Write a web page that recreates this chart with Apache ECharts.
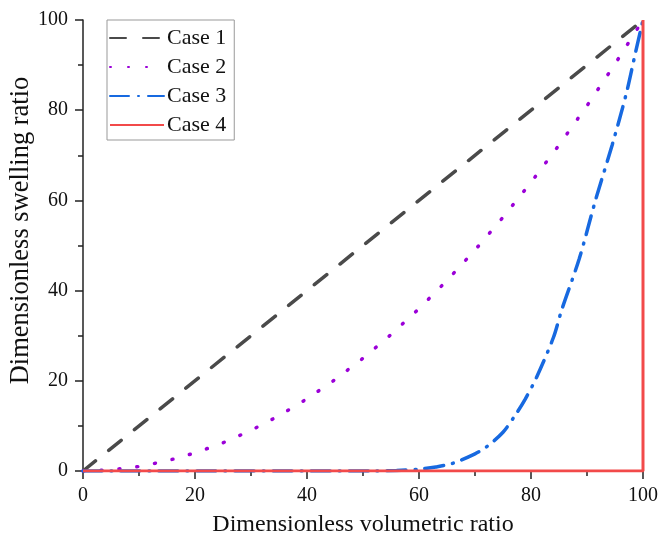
<!DOCTYPE html>
<html>
<head>
<meta charset="utf-8">
<script src="https://cdn.jsdelivr.net/npm/echarts@6/dist/echarts.min.js"></script>
<style>
    html, body { margin: 0; padding: 0; background: #fff; }
    #chart { width: 661px; height: 541px; }
</style>
</head>
<body>
<div id="chart"></div>
<script>
// values, [volumetric ratio, swelling ratio]
var case1Data = [[0, 0], [100, 100]];
var case2Data = [[0, 0], [5, 0.25], [10, 1], [15, 2.25], [20, 4], [25, 6.25], [30, 9], [35, 12.25],
    [40, 16], [45, 20.25], [50, 25], [55, 30.25], [60, 36], [65, 42.25], [70, 49], [75, 56.25],
    [80, 64], [85, 72.25], [90, 81], [95, 90.25], [100, 100]];
var case3Data = [[0, 0], [52, 0], [56, 0.1], [60, 0.4], [63, 0.9], [66, 1.7], [70, 3.8], [72, 5.3],
    [75, 8.6], [77.3, 12.6], [79, 16], [81, 20.8], [84, 29.6], [85.5, 35.8], [88.6, 47],
    [91.6, 60.4], [94.5, 72.3], [97, 83.6], [98.7, 93], [100, 100]];
var case4Data = [[0, 0], [100, 0], [100, 100]];

var xTicks = [0, 20, 40, 60, 80, 100];
var yTicks = [0, 20, 40, 60, 80, 100];

var fontFamily = '"Liberation Serif", "DejaVu Serif", serif';

var chart = echarts.init(document.getElementById('chart'));

var axisCommon = {
    type: 'value',
    min: 0,
    max: 100,
    interval: 20,
    nameLocation: 'middle',
    nameMoveOverlap: false,
    nameTextStyle: { fontFamily: fontFamily, fontSize: 24, color: '#111' },
    axisLine: { show: true, onZero: false, lineStyle: { color: '#222', width: 1.5 } },
    axisTick: { show: true, inside: false, length: 8, lineStyle: { color: '#222', width: 1.5 } },
    minorTick: { show: true, splitNumber: 2, length: 5, lineStyle: { color: '#222', width: 1.5 } },
    axisLabel: { fontFamily: fontFamily, fontSize: 20, color: '#111', margin: 15 },
    splitLine: { show: false }
};

var option = {
    animation: false,
    backgroundColor: '#fff',
    grid: { left: 83, right: 18, top: 20, bottom: 70, containLabel: false, outerBoundsMode: 'none' },
    legend: {
        orient: 'vertical',
        left: 107,
        top: 20,
        padding: [7, 8, 4, 2],
        itemGap: 7,
        itemWidth: 54,
        itemHeight: 18,
        borderColor: '#999',
        borderWidth: 1,
        itemStyle: { opacity: 0 },
        textStyle: { fontFamily: fontFamily, fontSize: 22, color: '#111', padding: [0, 0, 0, -2] },
        data: ['Case 1', 'Case 2', 'Case 3', 'Case 4']
    },
    xAxis: Object.assign({}, axisCommon, {
        name: 'Dimensionless volumetric ratio',
        nameGap: 42,
        axisLabel: Object.assign({}, axisCommon.axisLabel, {
            formatter: function (v) { return xTicks.indexOf(v) >= 0 ? String(v) : ''; }
        })
    }),
    yAxis: Object.assign({}, axisCommon, {
        name: 'Dimensionless swelling ratio',
        nameGap: 48,
        nameTextStyle: { fontFamily: fontFamily, fontSize: 26.5, color: '#111', padding: [0, 0, 0, 30] },
        axisLabel: Object.assign({}, axisCommon.axisLabel, {
            formatter: function (v) { return yTicks.indexOf(v) >= 0 ? String(v) : ''; }
        })
    }),
    series: [
        {
            name: 'Case 1',
            type: 'line',
            data: case1Data,
            showSymbol: false,
            symbol: 'none',
            color: '#4a4a4a',
            lineStyle: { width: 3.5, type: [16, 17], cap: 'round' }
        },
        {
            name: 'Case 2',
            type: 'line',
            data: case2Data,
            showSymbol: false,
            symbol: 'none',
            color: '#9b00d8',
            lineStyle: { width: 3.5, type: [1, 17], cap: 'round' }
        },
        {
            name: 'Case 3',
            type: 'line',
            data: case3Data,
            showSymbol: false,
            symbol: 'none',
            smooth: 0.3,
            color: '#1769e0',
            lineStyle: { width: 3.5, type: [19, 9, 1, 9], cap: 'round' }
        },
        {
            name: 'Case 4',
            type: 'line',
            data: case4Data,
            showSymbol: false,
            symbol: 'none',
            color: '#f24a4a',
            lineStyle: { width: 3, type: 'solid' }
        }
    ]
};
chart.setOption(option);
</script>
</body>
</html>
